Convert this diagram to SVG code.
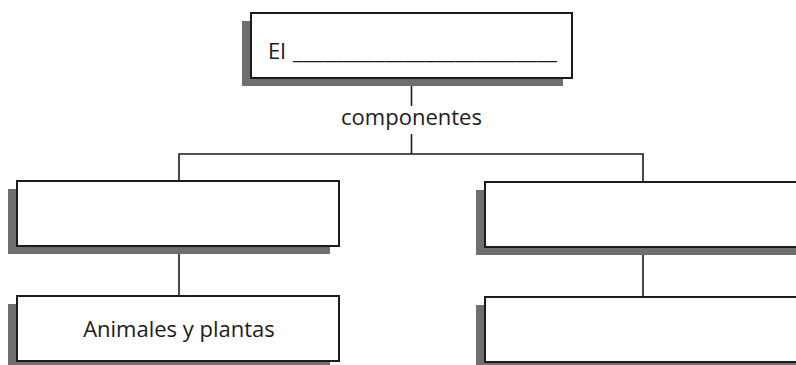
<svg xmlns="http://www.w3.org/2000/svg" width="796" height="365" viewBox="0 0 796 365">
<style>
.shadow{fill:#6f6f6f;}
.box{fill:#ffffff;stroke:#1e1b19;stroke-width:2;}
.conn{fill:none;stroke:#1e1b19;stroke-width:1.6;}
.t{font-family:"Open Sans","Noto Sans",sans-serif;font-size:22px;fill:#1e1b19;}
</style>
<rect width="796" height="365" fill="#ffffff"/>
<g id="connectors">
<line class="conn" x1="411.5" y1="86" x2="411.5" y2="106"/>
<line class="conn" x1="411.5" y1="134" x2="411.5" y2="154"/>
<polyline class="conn" points="179,181 179,154 643,154 643,182"/>
<line class="conn" x1="179" y1="254" x2="179" y2="296"/>
<line class="conn" x1="643" y1="255" x2="643" y2="297"/>
<text class="t" x="411.5" y="125" text-anchor="middle">componentes</text>
</g>
<g id="top">
<rect class="shadow" x="242" y="21" width="321" height="65"/>
<rect class="box" x="251" y="13" width="321" height="65"/>
<text class="t" x="268" y="59">El <tspan x="293" textLength="264" lengthAdjust="spacingAndGlyphs">__________________________</tspan></text>
</g>
<g id="left1">
<rect class="shadow" x="8" y="189" width="322" height="65"/>
<rect class="box" x="17" y="181" width="322" height="65"/>
</g>
<g id="left2">
<rect class="shadow" x="8" y="304" width="322" height="65"/>
<rect class="box" x="17" y="296" width="322" height="65"/>
<text class="t" x="179" y="337" text-anchor="middle">Animales y plantas</text>
</g>
<g id="right1">
<rect class="shadow" x="476" y="190" width="340" height="65"/>
<rect class="box" x="485" y="182" width="340" height="65"/>
</g>
<g id="right2">
<rect class="shadow" x="476" y="305" width="340" height="65"/>
<rect class="box" x="485" y="297" width="340" height="65"/>
</g>
</svg>
